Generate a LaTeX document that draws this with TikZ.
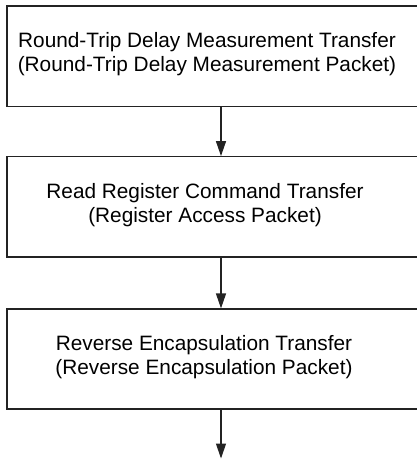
\documentclass[tikz,border=0pt]{standalone}
\usepackage{fontspec}
\setmainfont{Liberation Sans}
\usetikzlibrary{arrows.meta}
\definecolor{edge}{RGB}{35,35,35}
\tikzset{
  stagebox/.style={draw=edge, line width=1.2pt, minimum width=428pt, inner sep=0pt},
  lbl/.style={align=center, font=\fontsize{20.8}{24}\selectfont, inner sep=0pt},
  flow/.style={draw=edge, line width=1.2pt, -{Triangle[length=15pt,width=10pt]}}
}
\begin{document}
\begin{tikzpicture}[x=1pt,y=-1pt]
\useasboundingbox (0,0) rectangle (417,459);
\clip (0,0) rectangle (417,459);
\node[stagebox, minimum height=100.5pt] (b1) at (221,56.25) {};
\node[stagebox, minimum height=100.3pt] (b2) at (221,206.85) {};
\node[stagebox, minimum height=100pt] (b3) at (221,359) {};
\node[lbl] (t1) at (207,54) {Round-Trip Delay Measurement Transfer\\(Round-Trip Delay Measurement Packet)};
\node[lbl] (t2) at (205,205) {Read Register Command Transfer\\(Register Access Packet)};
\node[lbl] (t3) at (204,357.5) {Reverse Encapsulation Transfer\\(Reverse Encapsulation Packet)};
\coordinate (end) at (221,458.5);
\draw[flow] (b1.south) -- (b2.north);
\draw[flow] (b2.south) -- (b3.north);
\draw[flow] (b3.south) -- (end);
\end{tikzpicture}
\end{document}
